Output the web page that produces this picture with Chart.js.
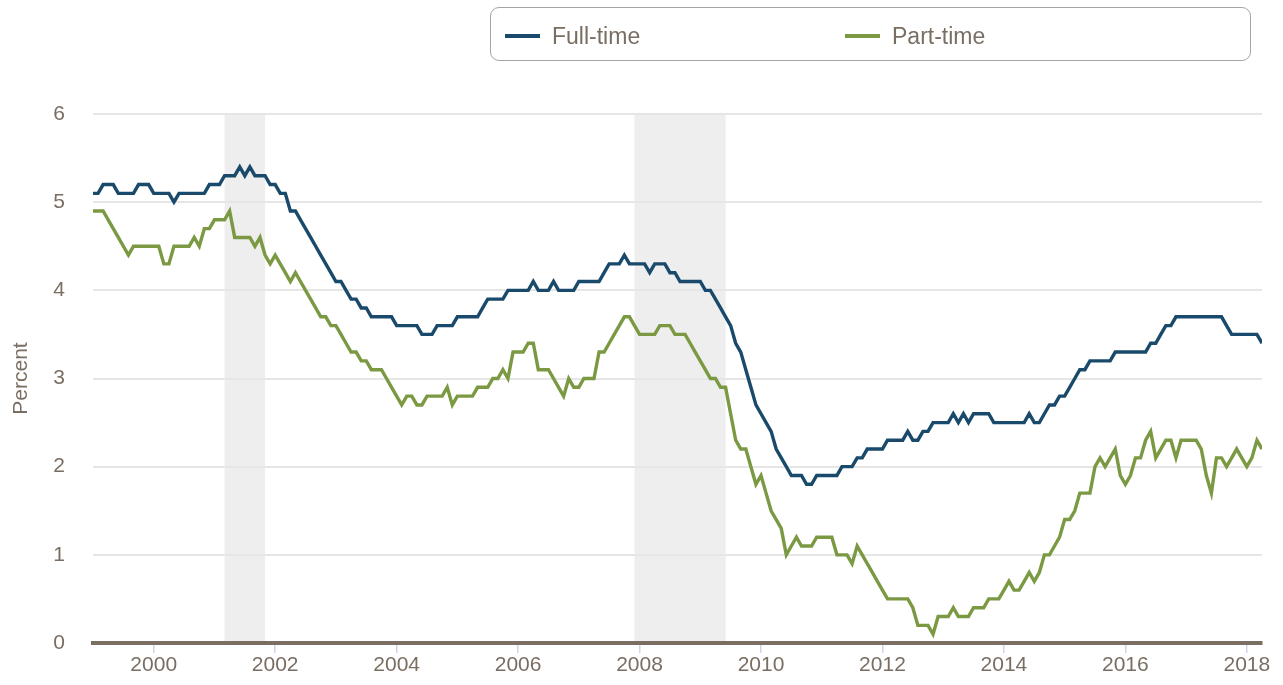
<!DOCTYPE html>
<html>
<head>
<meta charset="utf-8">
<title>Full-time vs Part-time</title>
<script src="https://cdn.jsdelivr.net/npm/chart.js@4.4.1/dist/chart.umd.min.js"></script>
<style>
  body { margin: 0; background: #fff; font-family: "Liberation Sans", Arial, sans-serif; }
  #wrap { position: relative; width: 1283px; height: 685px; }
  #chart { position: absolute; left: 0; top: 0; }
  #legend {
    position: absolute; left: 490px; top: 7px; width: 761px; height: 54px;
    border: 1.5px solid #a5a5a5; border-radius: 9px; box-sizing: border-box;
  }
  #legend .item {
    position: absolute; top: 2px; height: 100%; display: flex; align-items: center;
    font-size: 23px; color: #7a6e62;
  }
  #legend .swatch { width: 35px; height: 4px; margin-right: 12px; }
</style>
</head>
<body>
<div id="wrap">
  <canvas id="chart" width="1283" height="685"></canvas>
  <div id="legend"></div>
</div>
<script>
// monthly values, first point = January 1999
const startYear = 1999;

const fullTime = [
  5.1, 5.1, 5.2, 5.2, 5.2, 5.1, 5.1, 5.1, 5.1, 5.2, 5.2, 5.2, // 1999
  5.1, 5.1, 5.1, 5.1, 5.0, 5.1, 5.1, 5.1, 5.1, 5.1, 5.1, 5.2, // 2000
  5.2, 5.2, 5.3, 5.3, 5.3, 5.4, 5.3, 5.4, 5.3, 5.3, 5.3, 5.2, // 2001
  5.2, 5.1, 5.1, 4.9, 4.9, 4.8, 4.7, 4.6, 4.5, 4.4, 4.3, 4.2, // 2002
  4.1, 4.1, 4.0, 3.9, 3.9, 3.8, 3.8, 3.7, 3.7, 3.7, 3.7, 3.7, // 2003
  3.6, 3.6, 3.6, 3.6, 3.6, 3.5, 3.5, 3.5, 3.6, 3.6, 3.6, 3.6, // 2004
  3.7, 3.7, 3.7, 3.7, 3.7, 3.8, 3.9, 3.9, 3.9, 3.9, 4.0, 4.0, // 2005
  4.0, 4.0, 4.0, 4.1, 4.0, 4.0, 4.0, 4.1, 4.0, 4.0, 4.0, 4.0, // 2006
  4.1, 4.1, 4.1, 4.1, 4.1, 4.2, 4.3, 4.3, 4.3, 4.4, 4.3, 4.3, // 2007
  4.3, 4.3, 4.2, 4.3, 4.3, 4.3, 4.2, 4.2, 4.1, 4.1, 4.1, 4.1, // 2008
  4.1, 4.0, 4.0, 3.9, 3.8, 3.7, 3.6, 3.4, 3.3, 3.1, 2.9, 2.7, // 2009
  2.6, 2.5, 2.4, 2.2, 2.1, 2.0, 1.9, 1.9, 1.9, 1.8, 1.8, 1.9, // 2010
  1.9, 1.9, 1.9, 1.9, 2.0, 2.0, 2.0, 2.1, 2.1, 2.2, 2.2, 2.2, // 2011
  2.2, 2.3, 2.3, 2.3, 2.3, 2.4, 2.3, 2.3, 2.4, 2.4, 2.5, 2.5, // 2012
  2.5, 2.5, 2.6, 2.5, 2.6, 2.5, 2.6, 2.6, 2.6, 2.6, 2.5, 2.5, // 2013
  2.5, 2.5, 2.5, 2.5, 2.5, 2.6, 2.5, 2.5, 2.6, 2.7, 2.7, 2.8, // 2014
  2.8, 2.9, 3.0, 3.1, 3.1, 3.2, 3.2, 3.2, 3.2, 3.2, 3.3, 3.3, // 2015
  3.3, 3.3, 3.3, 3.3, 3.3, 3.4, 3.4, 3.5, 3.6, 3.6, 3.7, 3.7, // 2016
  3.7, 3.7, 3.7, 3.7, 3.7, 3.7, 3.7, 3.7, 3.6, 3.5, 3.5, 3.5, // 2017
  3.5, 3.5, 3.5, 3.4                                          // 2018
];

const partTime = [
  4.9, 4.9, 4.9, 4.8, 4.7, 4.6, 4.5, 4.4, 4.5, 4.5, 4.5, 4.5, // 1999
  4.5, 4.5, 4.3, 4.3, 4.5, 4.5, 4.5, 4.5, 4.6, 4.5, 4.7, 4.7, // 2000
  4.8, 4.8, 4.8, 4.9, 4.6, 4.6, 4.6, 4.6, 4.5, 4.6, 4.4, 4.3, // 2001
  4.4, 4.3, 4.2, 4.1, 4.2, 4.1, 4.0, 3.9, 3.8, 3.7, 3.7, 3.6, // 2002
  3.6, 3.5, 3.4, 3.3, 3.3, 3.2, 3.2, 3.1, 3.1, 3.1, 3.0, 2.9, // 2003
  2.8, 2.7, 2.8, 2.8, 2.7, 2.7, 2.8, 2.8, 2.8, 2.8, 2.9, 2.7, // 2004
  2.8, 2.8, 2.8, 2.8, 2.9, 2.9, 2.9, 3.0, 3.0, 3.1, 3.0, 3.3, // 2005
  3.3, 3.3, 3.4, 3.4, 3.1, 3.1, 3.1, 3.0, 2.9, 2.8, 3.0, 2.9, // 2006
  2.9, 3.0, 3.0, 3.0, 3.3, 3.3, 3.4, 3.5, 3.6, 3.7, 3.7, 3.6, // 2007
  3.5, 3.5, 3.5, 3.5, 3.6, 3.6, 3.6, 3.5, 3.5, 3.5, 3.4, 3.3, // 2008
  3.2, 3.1, 3.0, 3.0, 2.9, 2.9, 2.6, 2.3, 2.2, 2.2, 2.0, 1.8, // 2009
  1.9, 1.7, 1.5, 1.4, 1.3, 1.0, 1.1, 1.2, 1.1, 1.1, 1.1, 1.2, // 2010
  1.2, 1.2, 1.2, 1.0, 1.0, 1.0, 0.9, 1.1, 1.0, 0.9, 0.8, 0.7, // 2011
  0.6, 0.5, 0.5, 0.5, 0.5, 0.5, 0.4, 0.2, 0.2, 0.2, 0.1, 0.3, // 2012
  0.3, 0.3, 0.4, 0.3, 0.3, 0.3, 0.4, 0.4, 0.4, 0.5, 0.5, 0.5, // 2013
  0.6, 0.7, 0.6, 0.6, 0.7, 0.8, 0.7, 0.8, 1.0, 1.0, 1.1, 1.2, // 2014
  1.4, 1.4, 1.5, 1.7, 1.7, 1.7, 2.0, 2.1, 2.0, 2.1, 2.2, 1.9, // 2015
  1.8, 1.9, 2.1, 2.1, 2.3, 2.4, 2.1, 2.2, 2.3, 2.3, 2.1, 2.3, // 2016
  2.3, 2.3, 2.3, 2.2, 1.9, 1.7, 2.1, 2.1, 2.0, 2.1, 2.2, 2.1, // 2017
  2.0, 2.1, 2.3, 2.2                                          // 2018
];

// recessions (shaded), as decimal years: Mar-Nov 2001, Dec 2007-Jun 2009
const recessionStart = [2001 + 2 / 12, 2007 + 11 / 12];
const recessionEnd = [2001 + 10 / 12, 2009 + 5 / 12];

const yearTicks = [2000, 2002, 2004, 2006, 2008, 2010, 2012, 2014, 2016, 2018];
const yMin = 0, yMax = 6;

const seriesInfo = [
  { label: 'Full-time', values: fullTime, color: '#1a4a6b' },
  { label: 'Part-time', values: partTime, color: '#7b9942' },
];

const textColor = '#7a6e62';
const fontFamily = '"Liberation Sans", Arial, sans-serif';

const monthX = fullTime.map((_, i) => startYear + i / 12);

// --- recession bands, drawn under the grid ---
const recessionBands = {
  id: 'recessionBands',
  beforeDraw(chart) {
    const { ctx, chartArea, scales: { x } } = chart;
    ctx.save();
    ctx.fillStyle = '#eeeeee';
    recessionStart.forEach((s, k) => {
      const x1 = x.getPixelForValue(s);
      const x2 = x.getPixelForValue(recessionEnd[k]);
      ctx.fillRect(x1, chartArea.top, x2 - x1, chartArea.bottom - chartArea.top);
    });
    ctx.restore();
  }
};

const datasets = seriesInfo.map(s => ({
  label: s.label,
  data: s.values.map((v, i) => ({ x: monthX[i], y: v })),
  borderColor: s.color,
  backgroundColor: s.color,
  borderWidth: 3.4,
  pointRadius: 0,
  tension: 0,
}));

new Chart(document.getElementById('chart'), {
  type: 'line',
  data: { datasets },
  plugins: [recessionBands],
  options: {
    responsive: false,
    animation: false,
    layout: { padding: { top: 114, right: 21, left: 0, bottom: 0 } },
    plugins: { legend: { display: false }, tooltip: { enabled: false } },
    scales: {
      x: {
        type: 'linear',
        min: startYear,
        max: startYear + (fullTime.length - 1) / 12,
        afterFit: (s) => { s.height = 42; },
        afterBuildTicks: (s) => { s.ticks = yearTicks.map(v => ({ value: v })); },
        grid: { drawOnChartArea: false, drawTicks: true, tickLength: 10, color: '#ccd6eb', lineWidth: 1.5 },
        border: { display: true, color: '#7a6e62', width: 4 },
        ticks: {
          color: textColor, padding: 0, autoSkip: false, maxRotation: 0,
          font: { family: fontFamily, size: 21 },
          callback: (v) => String(v),
        },
      },
      y: {
        min: yMin, max: yMax,
        afterFit: (s) => { s.width = 93; },
        grid: { color: '#e6e6e6', lineWidth: 2, drawTicks: false },
        border: { display: false },
        ticks: { stepSize: 1, color: textColor, padding: 28, font: { family: fontFamily, size: 21 } },
        title: {
          display: true, text: 'Percent', color: textColor,
          font: { family: fontFamily, size: 21 }, padding: { top: 9, bottom: 0 },
        },
      },
    },
  },
});

// --- HTML legend in a rounded box ---
const legend = document.getElementById('legend');
const legendOffsets = [14, 354];
seriesInfo.forEach((s, k) => {
  const item = document.createElement('div');
  item.className = 'item';
  item.style.left = legendOffsets[k] + 'px';
  item.innerHTML = `<span class="swatch" style="background:${s.color}"></span><span>${s.label}</span>`;
  legend.appendChild(item);
});
</script>
</body>
</html>
